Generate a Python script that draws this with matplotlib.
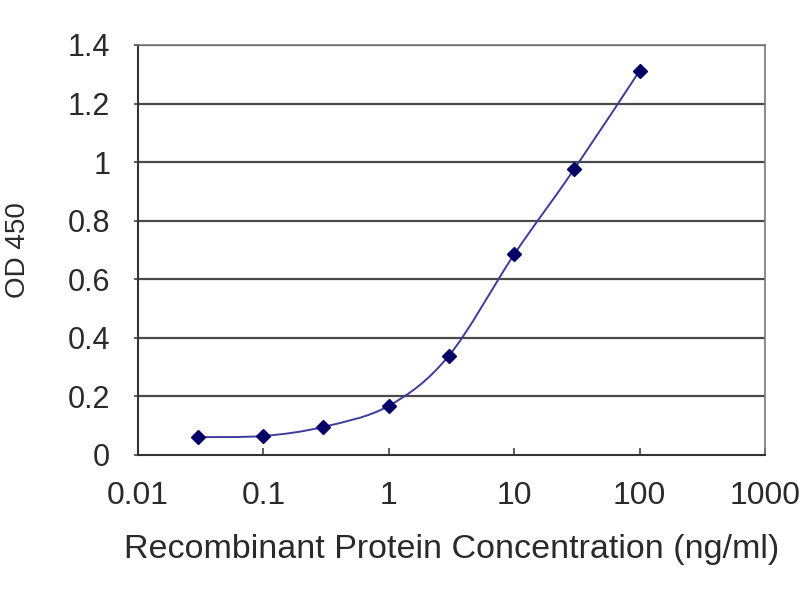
import numpy as np
import matplotlib
matplotlib.use("Agg")
import matplotlib.pyplot as plt
from matplotlib.path import Path
from matplotlib.patches import PathPatch

# Data
concentration = [0.03, 0.1, 0.3, 1, 3, 10, 30, 100]
od450 = [0.061, 0.065, 0.096, 0.168, 0.338, 0.685, 0.975, 1.312]
x_ticks = [0.01, 0.1, 1, 10, 100, 1000]
x_tick_labels = ["0.01", "0.1", "1", "10", "100", "1000"]
y_ticks = [0, 0.2, 0.4, 0.6, 0.8, 1.0, 1.2, 1.4]
y_tick_labels = ["0", "0.2", "0.4", "0.6", "0.8", "1", "1.2", "1.4"]

plt.rcParams['font.family'] = ['Liberation Sans', 'DejaVu Sans']
text_color = '#2a2a2a'

fig = plt.figure(figsize=(8, 6), dpi=100)
ax = fig.add_axes([138/800, 145/600, 627/800, 410/600])

ax.set_xscale('log')
ax.set_xlim(0.01, 1000)
ax.set_ylim(0, 1.4)

# Gridlines
for yv in y_ticks[1:]:
    ax.axhline(yv, color='#4a4a4a', linewidth=1.6, zorder=1)

# Smoothed line (Bezier through points in log-x space, like Excel smoothing)
lx = np.log10(np.array(concentration, dtype=float))
ly = np.array(od450, dtype=float)
n = len(lx)
verts = [(concentration[0], od450[0])]
codes = [Path.MOVETO]
for i in range(n - 1):
    p0 = np.array([lx[max(i - 1, 0)], ly[max(i - 1, 0)]])
    p1 = np.array([lx[i], ly[i]])
    p2 = np.array([lx[i + 1], ly[i + 1]])
    p3 = np.array([lx[min(i + 2, n - 1)], ly[min(i + 2, n - 1)]])
    c1 = p1 + (p2 - p0) / 6.0
    c2 = p2 - (p3 - p1) / 6.0
    for c in (c1, c2, p2):
        verts.append((10 ** c[0], c[1]))
        codes.append(Path.CURVE4)
patch = PathPatch(Path(verts, codes), facecolor='none', edgecolor='#3c3c9c',
                  linewidth=1.4, transform=ax.transData, zorder=3)
ax.add_patch(patch)

ax.plot(concentration, od450, linestyle='none', marker='D', markersize=7,
        color='#000066', zorder=4)

# Ticks
ax.set_xticks(x_ticks)
ax.set_xticklabels(x_tick_labels)
ax.xaxis.set_minor_locator(matplotlib.ticker.NullLocator())
ax.set_yticks(y_ticks)
ax.set_yticklabels(y_tick_labels)
ax.tick_params(axis='x', direction='in', length=5, width=1.2, color='#444444',
               pad=19, labelsize=23, labelcolor=text_color)
ax.tick_params(axis='y', direction='out', length=3, width=1.2, color='#444444',
               pad=17, labelsize=22, labelcolor=text_color)

for s in ['left', 'bottom']:
    ax.spines[s].set_color('#333333')
    ax.spines[s].set_linewidth(1.5)
for s in ['top', 'right']:
    ax.spines[s].set_color('#777777')
    ax.spines[s].set_linewidth(1.2)

ax.set_xlabel('Recombinant Protein Concentration (ng/ml)', fontsize=24.5,
              color=text_color, labelpad=16)
ax.set_ylabel('OD 450', fontsize=20, color=text_color)
ax.yaxis.set_label_coords((31 - 138) / 627, 0.5)

fig.savefig('out.png', dpi=100, facecolor='white')
